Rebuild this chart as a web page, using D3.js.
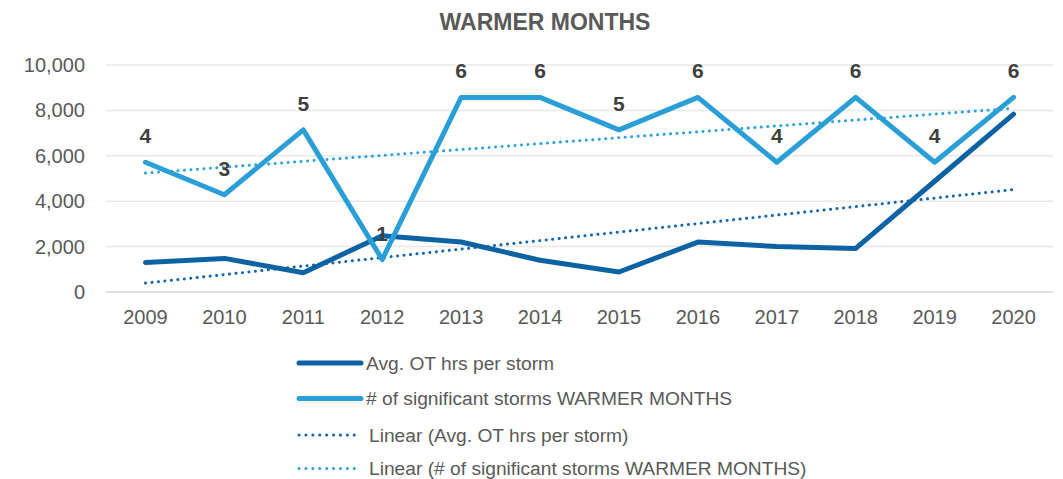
<!DOCTYPE html>
<html>
<head>
<meta charset="utf-8">
<script src="https://cdn.jsdelivr.net/npm/d3@7"></script>
<style>
  html, body { margin: 0; padding: 0; background: #fff; }
  svg { display: block; font-family: "Liberation Sans", Arial, sans-serif; }
</style>
</head>
<body>
<svg id="chart" width="1063" height="479"></svg>
<script>
// ─── Datos ────────────────────────────────────────────────────────────────────
const years      = ["2009","2010","2011","2012","2013","2014","2015","2016","2017","2018","2019","2020"];
const avgOtHours = [1300, 1480, 850, 2480, 2200, 1400, 880, 2200, 2000, 1920, 4880, 7840];
const storms     = [4, 3, 5, 1, 6, 6, 5, 6, 4, 6, 4, 6];
const yTicks     = [0, 2000, 4000, 6000, 8000, 10000];
const legendItems = [
  { label: "Avg. OT hrs per storm", kind: "solid", color: "#0c63a4" },
  { label: "# of significant storms WARMER MONTHS", kind: "solid", color: "#2a9fd7" },
  { label: "Linear (Avg. OT hrs per storm)", kind: "dot", color: "#1467aa" },
  { label: "Linear (# of significant storms WARMER MONTHS)", kind: "dot", color: "#2ea2da" },
];

// ─── Escalas ──────────────────────────────────────────────────────────────────
const svg = d3.select("#chart");
const plot = { left: 106, right: 1053, top: 65, bottom: 292 };

const x  = d3.scaleBand().domain(years).range([plot.left, plot.right]);
const cx = d => x(d) + x.bandwidth() / 2;
const y  = d3.scaleLinear().domain([0, 10000]).range([plot.bottom, plot.top]);
const y2 = d3.scaleLinear().domain([0, 7]).range([plot.bottom, plot.top]); // eje secundario oculto

// Tendencia lineal (mínimos cuadrados) como la de Excel
function linearFit(vals) {
  const n = vals.length, xs = d3.range(n);
  const mx = d3.mean(xs), my = d3.mean(vals);
  const b = d3.sum(xs, i => (i - mx) * (vals[i] - my)) / d3.sum(xs, i => (i - mx) ** 2);
  return i => my + b * (i - mx);
}

// ─── Título ───────────────────────────────────────────────────────────────────
svg.append("text")
  .attr("x", 545).attr("y", 30)
  .attr("text-anchor", "middle")
  .attr("font-size", 23).attr("font-weight", "bold")
  .attr("fill", "#595959")
  .text("WARMER MONTHS");

// ─── Rejilla y ejes ───────────────────────────────────────────────────────────
svg.append("g")
  .selectAll("line")
  .data(yTicks.filter(t => t > 0))
  .join("line")
  .attr("x1", plot.left).attr("x2", plot.right)
  .attr("y1", d => y(d)).attr("y2", d => y(d))
  .attr("stroke", "#e8e8e8").attr("stroke-width", 1.5);

svg.append("line")
  .attr("x1", plot.left).attr("x2", plot.right)
  .attr("y1", y(0)).attr("y2", y(0))
  .attr("stroke", "#d4d4d4").attr("stroke-width", 1.5);

const yAxis = svg.append("g")
  .attr("transform", `translate(${plot.left - 18},0)`)
  .call(d3.axisLeft(y).tickValues(yTicks).tickFormat(d3.format(",")).tickSize(0));
yAxis.select(".domain").remove();
yAxis.selectAll("text")
  .attr("font-family", "Liberation Sans, Arial, sans-serif")
  .attr("font-size", 20).attr("fill", "#595959");

const xAxis = svg.append("g")
  .attr("transform", `translate(0,${plot.bottom})`)
  .call(d3.axisBottom(x).tickSize(0).tickPadding(18));
xAxis.select(".domain").remove();
xAxis.selectAll("text")
  .attr("font-family", "Liberation Sans, Arial, sans-serif")
  .attr("font-size", 20).attr("fill", "#595959");

// ─── Líneas ───────────────────────────────────────────────────────────────────
const lineAvg    = d3.line().x((d, i) => cx(years[i])).y(d => y(d));
const lineStorms = d3.line().x((d, i) => cx(years[i])).y(d => y2(d));

const fitAvg    = linearFit(avgOtHours);
const fitStorms = linearFit(storms);
const last = years.length - 1;

// tendencias (debajo de las series)
svg.append("line")
  .attr("x1", cx(years[0])).attr("y1", y(fitAvg(0)))
  .attr("x2", cx(years[last])).attr("y2", y(fitAvg(last)))
  .attr("stroke", legendItems[2].color).attr("stroke-width", 3)
  .attr("stroke-linecap", "round").attr("stroke-dasharray", "0.1 6.4");

svg.append("line")
  .attr("x1", cx(years[0])).attr("y1", y2(fitStorms(0)))
  .attr("x2", cx(years[last])).attr("y2", y2(fitStorms(last)))
  .attr("stroke", legendItems[3].color).attr("stroke-width", 3)
  .attr("stroke-linecap", "round").attr("stroke-dasharray", "0.1 6.4");

svg.append("path")
  .datum(avgOtHours)
  .attr("d", lineAvg)
  .attr("fill", "none").attr("stroke", legendItems[0].color)
  .attr("stroke-width", 5).attr("stroke-linejoin", "round").attr("stroke-linecap", "round");

svg.append("path")
  .datum(storms)
  .attr("d", lineStorms)
  .attr("fill", "none").attr("stroke", legendItems[1].color)
  .attr("stroke-width", 5).attr("stroke-linejoin", "round").attr("stroke-linecap", "round");

// etiquetas de datos
svg.append("g")
  .selectAll("text")
  .data(storms)
  .join("text")
  .attr("x", (d, i) => cx(years[i]))
  .attr("y", d => y2(d) - 19)
  .attr("text-anchor", "middle")
  .attr("font-size", 21).attr("font-weight", "bold")
  .attr("fill", "#404040")
  .text(d => d);

// ─── Leyenda ──────────────────────────────────────────────────────────────────
const legend = svg.append("g").attr("transform", "translate(297,363)");
const row = legend.selectAll("g")
  .data(legendItems)
  .join("g")
  .attr("transform", (d, i) => `translate(0,${[0, 35.5, 72, 105.5][i]})`);

row.append("line")
  .attr("x1", 2).attr("x2", d => d.kind === "solid" ? 64 : 62)
  .attr("y1", 0).attr("y2", 0)
  .attr("stroke", d => d.color)
  .attr("stroke-width", d => d.kind === "solid" ? 5 : 3)
  .attr("stroke-linecap", "round")
  .attr("stroke-dasharray", d => d.kind === "solid" ? null : "0.1 6.8");

row.append("text")
  .attr("x", d => d.kind === "solid" ? 69 : 72)
  .attr("y", 0).attr("dy", "0.35em")
  .attr("font-size", 19.2).attr("fill", "#595959")
  .text(d => d.label);
</script>
</body>
</html>
